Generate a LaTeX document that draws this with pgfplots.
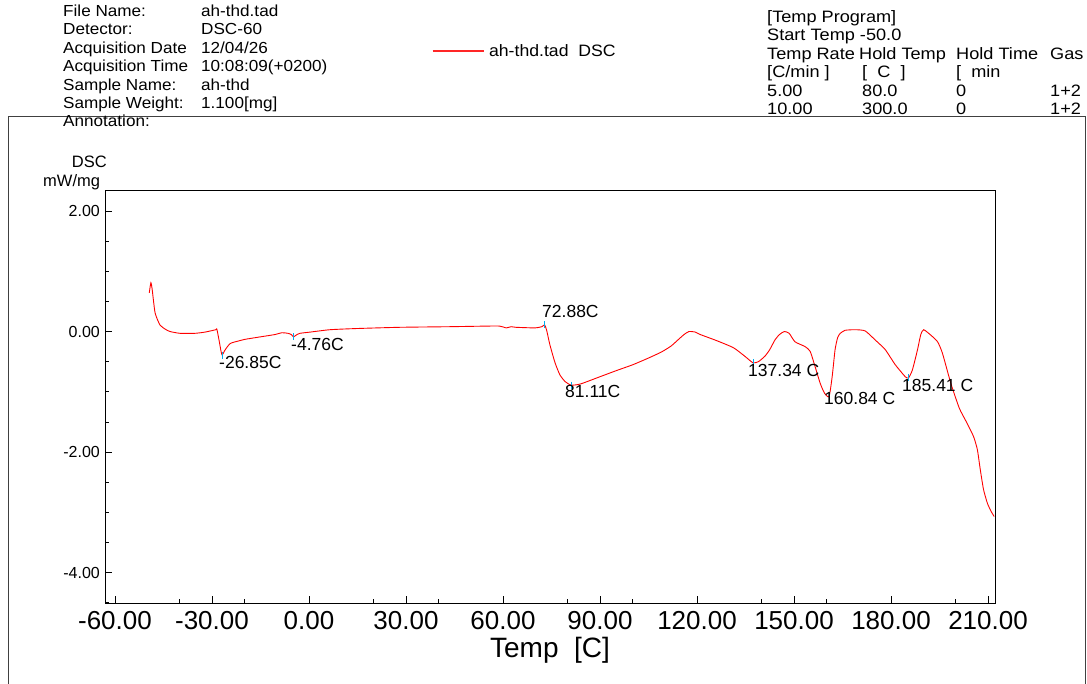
\documentclass[border=0pt]{standalone}
\usepackage{pgfplots}
\pgfplotsset{compat=1.18}
\usepackage{fontspec}
\setmainfont{Liberation Sans}
\newfontfamily\wideA[FakeStretch=1.07]{Liberation Sans}
\newfontfamily\wideB[FakeStretch=1.10]{Liberation Sans}
\newcommand{\fs}[1]{\fontsize{#1}{#1}\selectfont}
\begin{document}
\begin{tikzpicture}
\useasboundingbox (0pt,0pt) rectangle (1087pt,684pt);
\begin{axis}[
  at={(105pt,81pt)}, anchor=south west,
  scale only axis, width=890pt, height=413pt,
  xmin=-63.09, xmax=212.16, ymin=-4.506, ymax=2.349,
  axis line style={line width=0.8pt, black},
  tick align=inside, xtick pos=bottom, ytick pos=left,
  major tick length=7pt, minor tick length=3.5pt,
  tick style={black, line width=0.6pt},
  xtick={-60,-30,0,30,60,90,120,150,180,210},
  xticklabels={-60.00,-30.00,0.00,30.00,60.00,90.00,120.00,150.00,180.00,210.00},
  minor xtick={-40,-20,20,40,80,100,140,160,200},
  ytick={-4,-2,0,2},
  yticklabels={-4.00,-2.00,0.00,2.00},
  minor ytick={-4.5,-3.5,-3,-2.5,-1.5,-1,-0.5,0.5,1,1.5},
  xticklabel style={font=\fs{26}, anchor=north, inner sep=0pt, yshift=-8pt},
  yticklabel style={font=\fs{16}, anchor=east, inner sep=0pt, xshift=-5pt},
  legend style={draw=none, fill=none, at={(axis description cs:0.3674,1.3366)}, anchor=west, inner sep=0pt, outer sep=0pt, font=\wideA\fs{16.5}},
  legend image code/.code={\draw[red!85!white, line width=1.1pt] (0pt,0pt) -- (51pt,0pt);},
]
\addplot[red, line width=0.9pt, smooth, tension=0.35] coordinates {
(-49.4,0.64) (-48.9,0.81) (-48.5,0.70) (-47.6,0.31) (-46.1,0.11) (-44.5,0.04) (-43.0,0.00)
(-39.9,-0.03) (-35.3,-0.03) (-32.2,-0.01) (-28.8,0.03) (-28.5,0.04) (-27.8,-0.15) (-27.2,-0.33)
(-26.85,-0.39) (-26.0,-0.31) (-24.4,-0.20) (-22.0,-0.16) (-19.8,-0.13) (-15.2,-0.09) (-10.5,-0.05)
(-8.4,-0.02) (-6.5,-0.03) (-5.5,-0.05) (-4.76,-0.09) (-4.0,-0.06) (-2.8,-0.03) (0.3,-0.01)
(6.5,0.03) (15,0.05) (28.1,0.07) (43.6,0.08) (55,0.09) (59,0.09) (61,0.06) (62.5,0.08) (64,0.07)
(69.9,0.06) (72.0,0.08) (72.88,0.11) (73.5,0.02) (74.5,-0.22) (76.1,-0.52) (77.6,-0.72) (79.2,-0.83)
(81.11,-0.89) (84,-0.87) (90,-0.75) (95,-0.65) (100.2,-0.55) (105,-0.44) (109,-0.34) (112,-0.24) (114.5,-0.12) (116,-0.05) (117.5,0.0)
(119.5,-0.01) (121,-0.05) (126,-0.15) (131.3,-0.27) (135,-0.42) (137.34,-0.52) (139,-0.50) (141,-0.41)
(142.5,-0.30) (144.1,-0.14) (145.5,-0.05) (147.0,0.0) (148.5,-0.03) (150.3,-0.17) (153.4,-0.25)
(155,-0.33) (156.5,-0.58) (158.1,-0.86) (159.4,-1.02) (160.84,-1.08) (161.8,-0.75) (162.7,-0.30)
(163.5,-0.10) (164.3,-0.03) (165.8,0.02) (168.9,0.03) (172,0.01) (175.1,-0.14) (178.2,-0.30)
(181.3,-0.55) (184.4,-0.75) (185.41,-0.77) (186.6,-0.64) (188.2,-0.30) (189.2,-0.05) (190.1,0.03)
(192.3,-0.06) (194.4,-0.17) (195.9,-0.36) (198.5,-0.86) (201.1,-1.27) (203.2,-1.49) (205.5,-1.74)
(206.7,-1.96) (207.6,-2.29) (208.6,-2.62) (209.8,-2.85) (211.0,-2.99) (211.9,-3.07)
};
\addlegendentry{\hspace{3pt}ah-thd.tad\ \ DSC}
\addplot[only marks, mark=|, mark size=3.5pt, cyan, line width=0.8pt, forget plot] coordinates {
(-26.85,-0.39) (-4.76,-0.09) (72.88,0.11) (81.11,-0.89) (137.34,-0.52) (160.84,-1.08) (185.41,-0.77)
};
\end{axis}
% outer frame
\draw[line width=1pt, black!75] (8pt,0pt) -- (8pt,567pt) -- (1085pt,567pt) -- (1085pt,0pt);
% header info
\begin{scope}[every node/.style={inner sep=0pt, anchor=base west, font=\wideA\fs{16}}]
\node at (63pt,667.5pt) {File Name:};
\node at (63pt,649pt) {Detector:};
\node at (63pt,630.5pt) {Acquisition Date};
\node at (63pt,612pt) {Acquisition Time};
\node at (63pt,593.5pt) {Sample Name:};
\node at (63pt,575.5pt) {Sample Weight:};
\node at (63pt,557.5pt) {Annotation:};
\node at (201pt,667.5pt) {ah-thd.tad};
\node at (201pt,649pt) {DSC-60};
\node at (201pt,630.5pt) {12/04/26};
\node at (201pt,612pt) {10:08:09(+0200)};
\node at (201pt,593.5pt) {ah-thd};
\node at (201pt,575.5pt) {1.100[mg]};
\end{scope}
% temp program
\begin{scope}[every node/.style={inner sep=0pt, anchor=base west, font=\wideB\fs{16.5}}]
\node at (767pt,661.5pt) {[Temp Program]};
\node at (767pt,643.5pt) {Start Temp -50.0};
\node at (767pt,624.5pt) {Temp Rate};
\node at (859pt,624.5pt) {Hold Temp};
\node at (956pt,624.5pt) {Hold Time};
\node at (1050pt,624.5pt) {Gas};
\node at (767pt,606.5pt) {[C/min ]};
\node at (862pt,606.5pt) {[\ \ C\ \ ]};
\node at (956pt,606.5pt) {[\ \ min};
\node at (767pt,587.5pt) {5.00};
\node at (862pt,587.5pt) {80.0};
\node at (956pt,587.5pt) {0};
\node at (1050pt,587.5pt) {1+2};
\node at (767pt,569.5pt) {10.00};
\node at (862pt,569.5pt) {300.0};
\node at (956pt,569.5pt) {0};
\node at (1050pt,569.5pt) {1+2};
\end{scope}
% axis titles
\node[inner sep=0pt, anchor=base east, font=\fs{16.5}] at (107pt,516pt) {DSC};
\node[inner sep=0pt, anchor=base west, font=\fs{16.5}] at (43pt,497pt) {mW/mg};
\node[inner sep=0pt, anchor=base, font=\fs{28}] at (550pt,26.3pt) {Temp\ \ [C]};
% peak annotations
\begin{scope}[every node/.style={inner sep=0pt, anchor=base west, font=\fs{17.5}}]
\node at (219pt,315.7pt) {-26.85C};
\node at (291pt,333.7pt) {-4.76C};
\node at (542pt,366.7pt) {72.88C};
\node at (565pt,286.7pt) {81.11C};
\node at (748pt,307.7pt) {137.34 C};
\node at (824pt,279.7pt) {160.84 C};
\node at (902pt,292.7pt) {185.41 C};
\end{scope}
\end{tikzpicture}
\end{document}
